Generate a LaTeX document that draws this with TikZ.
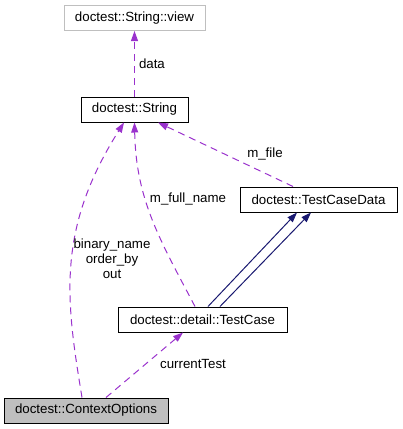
\documentclass[tikz,border=0pt]{standalone}
\usepackage{fontspec}
\setmainfont{Liberation Sans}
\definecolor{dxpurple}{RGB}{154, 50, 205}
\definecolor{dxnavy}{RGB}{25, 25, 112}
\definecolor{dxgray}{RGB}{191, 191, 191}
\usepackage{tikz}
\usetikzlibrary{arrows.meta, positioning, calc}

\begin{document}
\begin{tikzpicture}[x=1pt,y=-1pt,
	cls/.style={draw,line width=1pt,minimum height=25pt,inner sep=0pt,font=\fontsize{13.3}{16}\selectfont},
	use/.style={dxpurple,line width=1pt,dash pattern=on 7pt off 5pt,-{Triangle[length=10pt,width=7pt]}},
	inh/.style={dxnavy,line width=1pt,-{Triangle[length=10pt,width=7pt]}},
	lbl/.style={text=black,font=\fontsize{13.3}{15}\selectfont,align=center,inner sep=0pt}]
				\useasboundingbox (0,0) rectangle (403,429);
				
				\node (view) at (134.5,18) [cls,draw=dxgray,minimum width=141pt] {doctest::String::view};
				\node (str) at (134.5,109.5) [cls,minimum width=107pt] {doctest::String};
				\node (tcdata) at (318.5,199.5) [cls,minimum width=157pt] {doctest::TestCaseData};
				\node (tcase) at (202.5,319.5) [cls,minimum width=169pt] {doctest::detail::TestCase};
				\node (ctxopts) at (86,410.5) [cls,fill=dxgray,minimum width=164pt] {doctest::ContextOptions};
				
				\draw[use] (str.north) -- (view.south) node [lbl,midway,right=4pt] {data};
				\draw[use] ([xshift=-25.5pt]tcdata.north) -- ([xshift=23.5pt]str.south);
				\draw[use] ([xshift=-7.5pt]tcase.north) .. controls (160,240) and (136,200) .. (str.south);
				\draw[use] ([xshift=-4pt]ctxopts.north) .. controls (66,300) and (56,230) .. ([xshift=-10.5pt]str.south);
				\draw[use] ([xshift=20pt]ctxopts.north) -- ([xshift=-19.5pt]tcase.south);
				
				\draw[inh] ([xshift=5.5pt]tcase.north) -- ([xshift=-21.5pt]tcdata.south);
				\draw[inh] ([xshift=17.5pt]tcase.north) -- ([xshift=-7.5pt]tcdata.south);
				
				\node (lfile) at (265,154) [lbl] {m\_file};
				\node (lname) at (188,199) [lbl] {m\_full\_name};
				\node (lopts) at (112,259) [lbl] {binary\_name\\order\_by\\out};
				\node (ltest) at (193,364) [lbl] {currentTest};
\end{tikzpicture}
\end{document}
